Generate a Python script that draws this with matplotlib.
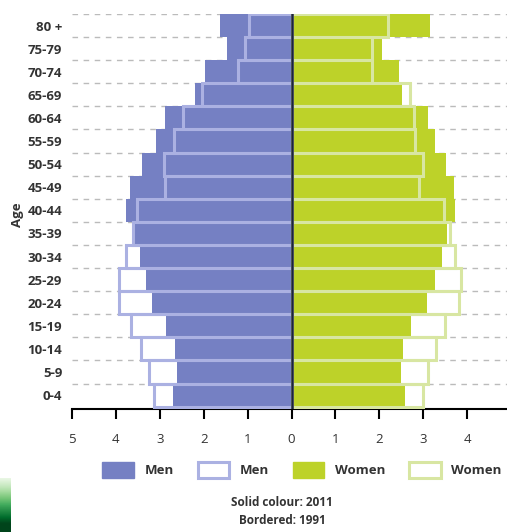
import matplotlib.pyplot as plt
from matplotlib.patches import Patch
import numpy as np

plt.rcParams['font.family'] = ['Open Sans', 'DejaVu Sans']

ages = ["0-4", "5-9", "10-14", "15-19", "20-24", "25-29", "30-34", "35-39",
        "40-44", "45-49", "50-54", "55-59", "60-64", "65-69", "70-74", "75-79", "80 +"]

# percent of population, 2011 (solid) and 1991 (bordered)
men_2011 = [2.71, 2.60, 2.66, 2.85, 3.18, 3.32, 3.46, 3.57, 3.77, 3.68, 3.41, 3.09, 2.88, 2.19, 1.96, 1.48, 1.64]
men_1991 = [3.14, 3.24, 3.43, 3.65, 3.92, 3.93, 3.77, 3.60, 3.52, 2.88, 2.90, 2.67, 2.47, 2.04, 1.23, 1.07, 0.97]
women_2011 = [2.59, 2.49, 2.54, 2.73, 3.09, 3.26, 3.43, 3.54, 3.73, 3.70, 3.53, 3.28, 3.11, 2.52, 2.44, 2.06, 3.16]
women_1991 = [3.00, 3.12, 3.29, 3.50, 3.81, 3.85, 3.73, 3.60, 3.47, 2.90, 3.00, 2.82, 2.80, 2.69, 1.83, 1.83, 2.19]

xticks = [-5, -4, -3, -2, -1, 0, 1, 2, 3, 4, 5]

men_col = "#7580c3"
men_edge = "#abb1e2"
women_col = "#bdd229"
women_edge = "#d8e6a2"
txt = "#333333"

fig = plt.figure(figsize=(5.07, 5.32), dpi=100)
ax = fig.add_axes([72 / 507, 1 - 409 / 532, 439 / 507, 395 / 532])

y = np.arange(len(ages))
m11 = -np.array(men_2011)
m91 = -np.array(men_1991)
w11 = np.array(women_2011)
w91 = np.array(women_1991)

for k in range(len(ages)):
    ax.axhline(k + 0.5, color="#bbbbbb", lw=1, ls=(0, (4, 4)), zorder=1)

# 1991 white fill underneath, 2011 solid, then 1991 outline on top
ax.barh(y, m91, height=1.0, color="white", zorder=2)
ax.barh(y, w91, height=1.0, color="white", zorder=2)
ax.barh(y, m11, height=1.0, color=men_col, zorder=3)
ax.barh(y, w11, height=1.0, color=women_col, zorder=3)
ax.barh(y, m91, height=1.0, facecolor="none", edgecolor=men_edge, lw=2.2, zorder=4)
ax.barh(y, w91, height=1.0, facecolor="none", edgecolor=women_edge, lw=2.2, zorder=4)

ax.axvline(0, color="#1c2240", lw=1.8, zorder=5)

ax.set_xlim(-5, 5)
ax.set_ylim(-0.6, 16.5)
ax.set_xticks(xticks)
ax.set_xticklabels([str(abs(v)) for v in xticks], fontsize=9.5, color=txt)
ax.set_yticks(y)
ax.set_yticklabels(ages, fontsize=9.5, color=txt, fontweight="bold")
ax.tick_params(axis="y", length=0, pad=7)
ax.tick_params(axis="x", length=7, width=1.5, color="black", pad=10)
for s in ["top", "right", "left"]:
    ax.spines[s].set_visible(False)
ax.spines["bottom"].set_linewidth(1.5)
ax.spines["bottom"].set_color("black")

fig.text(18 / 507, 1 - 215 / 532, "Age", rotation=90, ha="center", va="center",
         fontsize=9.5, fontweight="bold", color=txt)

handles = [
    Patch(facecolor=men_col, edgecolor=men_col),
    Patch(facecolor="white", edgecolor=men_edge, lw=2.2),
    Patch(facecolor=women_col, edgecolor=women_col),
    Patch(facecolor="white", edgecolor=women_edge, lw=2.2),
]
fig.legend(handles, ["Men", "Men", "Women", "Women"], loc="center",
           bbox_to_anchor=(302 / 507, 1 - 470 / 532), ncol=4, frameon=False,
           prop={"size": 9.5, "weight": "bold"}, handlelength=2.4, handleheight=1.5,
           handletextpad=0.8, columnspacing=1.8, labelcolor=txt)

fig.text(282 / 507, 1 - 503 / 532, "Solid colour: 2011", ha="center", va="center",
         fontsize=8.5, fontweight="bold", color=txt)
fig.text(282 / 507, 1 - 521 / 532, "Bordered: 1991", ha="center", va="center",
         fontsize=8.5, fontweight="bold", color=txt)

# green strip in the lower left corner
gax = fig.add_axes([0, 0, 11 / 507, 54 / 532])
grad = np.linspace(0, 1, 50).reshape(-1, 1)
gax.imshow(grad, aspect="auto", cmap="Greens", vmin=-0.1, vmax=0.85)
gax.axis("off")

fig.savefig("out.png", dpi=100)
